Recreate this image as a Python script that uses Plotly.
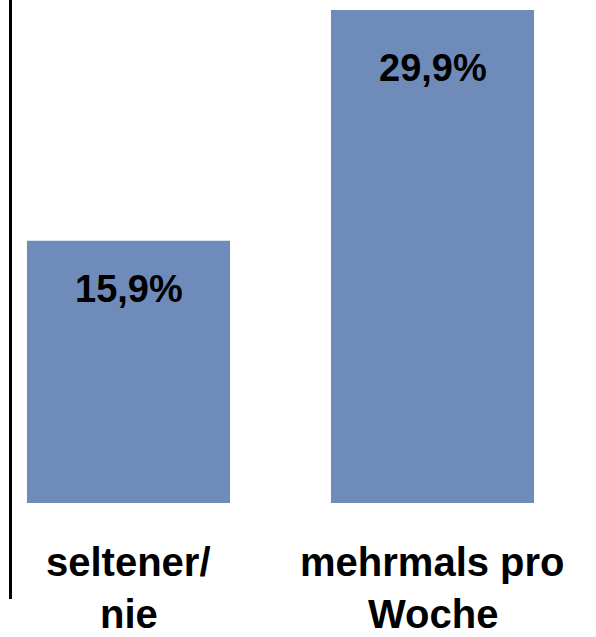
import plotly.graph_objects as go

# Survey shares per category
categories = ["seltener/<br>nie", "mehrmals pro<br>Woche"]
values = [15.9, 29.9]
value_labels = ["15,9%", "29,9%"]

BAR_COLOR = "#6F8BBA"
FONT = "Liberation Sans, Arial, sans-serif"

W, H = 596, 637
ML, MB = 12, 38

x_pos = list(range(len(categories)))

fig = go.Figure(
    go.Bar(
        x=x_pos,
        y=values,
        width=0.668,
        marker=dict(color=BAR_COLOR, line=dict(width=0)),
        hoverinfo="skip",
    )
)

# value labels inside the bars, near the top
label_shift = [-48, -58]
for xi, v, lab, s in zip(x_pos, values, value_labels, label_shift):
    fig.add_annotation(
        x=xi, y=v, xref="x", yref="y", text=f"<b>{lab}</b>",
        showarrow=False, yanchor="middle", yshift=s,
        font=dict(family=FONT, size=38, color="black"),
    )

# category labels below the plot, one annotation per line
line_shift = [37, -15]
for xi, cat in zip(x_pos, categories):
    for line, s in zip(cat.split("<br>"), line_shift):
        fig.add_annotation(
            x=xi, y=0, xref="x", yref="paper", text=f"<b>{line}</b>",
            showarrow=False, yanchor="middle", yshift=s,
            font=dict(family=FONT, size=40, color="black"),
        )

plot_w = W - ML
px_per_unit = 304.0
x_left = (ML - 128.5) / px_per_unit
x_right = x_left + plot_w / px_per_unit

plot_h = H - MB
y_scale = 493.0 / 29.9
y_top = 503.0 / y_scale
y_bottom = -(plot_h - 503.0) / y_scale

fig.update_layout(
    width=W, height=H,
    margin=dict(l=ML, r=0, t=0, b=MB, pad=0),
    paper_bgcolor="white", plot_bgcolor="white",
    showlegend=False,
    xaxis=dict(range=[x_left, x_right], showticklabels=False, showgrid=False,
               zeroline=False, showline=False, ticks=""),
    yaxis=dict(range=[y_bottom, y_top], showticklabels=False, showgrid=False,
               zeroline=False, showline=True, linecolor="black", linewidth=3,
               ticks=""),
)

fig.write_html("out.html")
